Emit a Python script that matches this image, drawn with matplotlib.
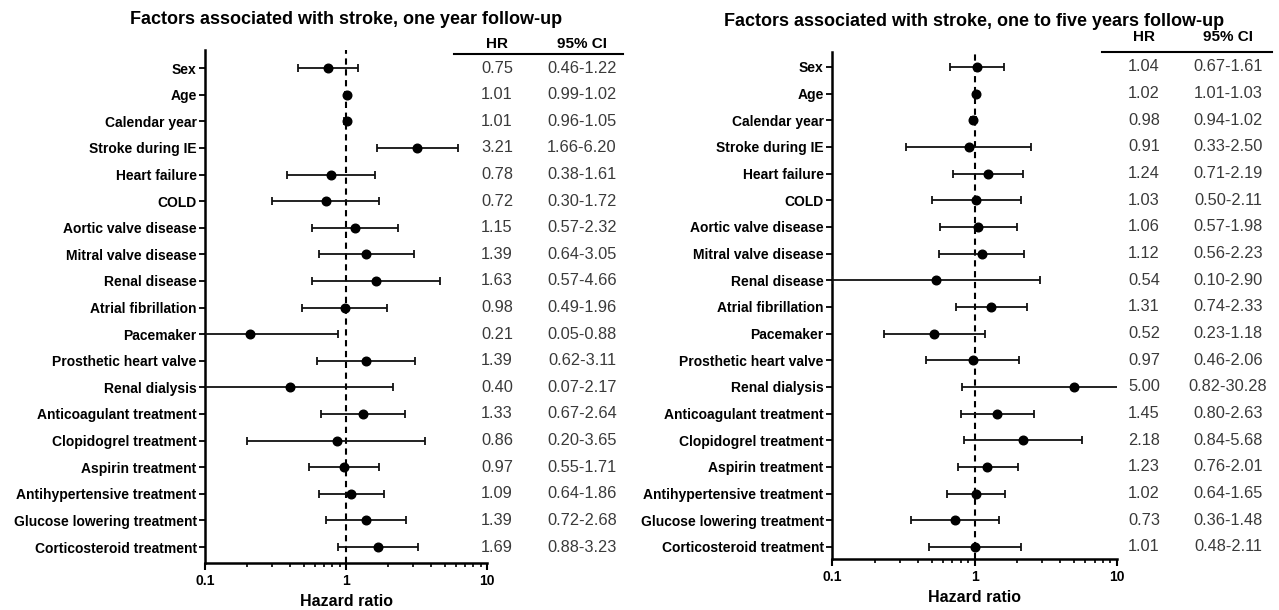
import matplotlib
matplotlib.use("Agg")
import matplotlib.pyplot as plt
import matplotlib.transforms as mtransforms
from matplotlib.ticker import LogLocator, NullFormatter

plt.rcParams['font.family'] = ['Liberation Sans', 'DejaVu Sans']

factors = ["Sex", "Age", "Calendar year", "Stroke during IE", "Heart failure", "COLD",
           "Aortic valve disease", "Mitral valve disease", "Renal disease",
           "Atrial fibrillation", "Pacemaker", "Prosthetic heart valve", "Renal dialysis",
           "Anticoagulant treatment", "Clopidogrel treatment", "Aspirin treatment",
           "Antihypertensive treatment", "Glucose lowering treatment",
           "Corticosteroid treatment"]

# one year follow-up
hr_1y = [0.75, 1.01, 1.01, 3.21, 0.78, 0.72, 1.15, 1.39, 1.63, 0.98, 0.21, 1.39, 0.40,
         1.33, 0.86, 0.97, 1.09, 1.39, 1.69]
lo_1y = [0.46, 0.99, 0.96, 1.66, 0.38, 0.30, 0.57, 0.64, 0.57, 0.49, 0.05, 0.62, 0.07,
         0.67, 0.20, 0.55, 0.64, 0.72, 0.88]
hi_1y = [1.22, 1.02, 1.05, 6.20, 1.61, 1.72, 2.32, 3.05, 4.66, 1.96, 0.88, 3.11, 2.17,
         2.64, 3.65, 1.71, 1.86, 2.68, 3.23]

# one to five years follow-up
hr_5y = [1.04, 1.02, 0.98, 0.91, 1.24, 1.03, 1.06, 1.12, 0.54, 1.31, 0.52, 0.97, 5.00,
         1.45, 2.18, 1.23, 1.02, 0.73, 1.01]
lo_5y = [0.67, 1.01, 0.94, 0.33, 0.71, 0.50, 0.57, 0.56, 0.10, 0.74, 0.23, 0.46, 0.82,
         0.80, 0.84, 0.76, 0.64, 0.36, 0.48]
hi_5y = [1.61, 1.03, 1.02, 2.50, 2.19, 2.11, 1.98, 2.23, 2.90, 2.33, 1.18, 2.06, 30.28,
         2.63, 5.68, 2.01, 1.65, 1.48, 2.11]

titles = ["Factors associated with stroke, one year follow-up",
          "Factors associated with stroke, one to five years follow-up"]
x_ticks = [0.1, 1, 10]
x_ticklabels = ["0.1", "1", "10"]

W, H = 1279, 610
fig = plt.figure(figsize=(W / 100, H / 100), dpi=100)


def px_axes(x0, x1, ytop, ybot):
    return fig.add_axes([x0 / W, 1 - ybot / H, (x1 - x0) / W, (ybot - ytop) / H])


panels = [
    dict(rect=(205, 487, 50, 563), ylim=(18.6, -0.68), hr=hr_1y, lo=lo_1y, hi=hi_1y,
         title=titles[0], title_y=19, hr_x=497, ci_x=582, head_y=44, line_y=54,
         line_x=(454, 623)),
    dict(rect=(832, 1117, 52, 559), ylim=(18.45, -0.56), hr=hr_5y, lo=lo_5y, hi=hi_5y,
         title=titles[1], title_y=22, hr_x=1144, ci_x=1228, head_y=37, line_y=52,
         line_x=(1102, 1272)),
]

for p in panels:
    ax = px_axes(*p["rect"])
    n = len(factors)
    ys = list(range(n))
    hr, lo, hi = p["hr"], p["lo"], p["hi"]
    xerr = [[h - l for h, l in zip(hr, lo)], [u - h for h, u in zip(hr, hi)]]
    ax.set_xscale("log")
    ax.set_xlim(0.1, 10)
    ax.set_ylim(*p["ylim"])
    ax.axvline(1, color="black", lw=1.5, ls=(0, (3.0, 2.2)), zorder=1)
    ax.errorbar(hr, ys, xerr=xerr, fmt="o", color="black", ecolor="#111111",
                elinewidth=1.3, capsize=2.8, capthick=1.3, markersize=6.2, zorder=3)
    ax.set_yticks(ys)
    ax.set_yticklabels(factors, fontsize=10, fontweight="bold")
    ax.set_xticks(x_ticks)
    ax.set_xticklabels(x_ticklabels, fontsize=10, fontweight="bold")
    ax.xaxis.set_minor_locator(LogLocator(base=10, subs=range(2, 10), numticks=10))
    ax.xaxis.set_minor_formatter(NullFormatter())
    ax.tick_params(axis="x", which="major", length=5, width=1.5, pad=3)
    ax.tick_params(axis="x", which="minor", length=3, width=1.2)
    ax.tick_params(axis="y", length=4, width=1.3, pad=2)
    for s in ["top", "right"]:
        ax.spines[s].set_visible(False)
    for s in ["left", "bottom"]:
        ax.spines[s].set_linewidth(1.8)
    ax.set_xlabel("Hazard ratio", fontsize=11.5, fontweight="bold", labelpad=4)

    x0, x1, yt, yb = p["rect"]
    fig.text(((x0 + x1) / 2) / W, 1 - p["title_y"] / H, p["title"], ha="center",
             va="center", fontsize=13, fontweight="bold")

    tr = mtransforms.blended_transform_factory(fig.transFigure, ax.transData)
    for i in range(n):
        ax.text(p["hr_x"] / W, i, f"{hr[i]:.2f}", transform=tr, ha="center", va="center",
                fontsize=11.8, color="#3a3a3a", clip_on=False)
        ax.text(p["ci_x"] / W, i, f"{lo[i]:.2f}-{hi[i]:.2f}", transform=tr, ha="center",
                va="center", fontsize=11.8, color="#3a3a3a", clip_on=False)
    fig.text(p["hr_x"] / W, 1 - p["head_y"] / H, "HR", ha="center", va="center",
             fontsize=11, fontweight="bold")
    fig.text(p["ci_x"] / W, 1 - p["head_y"] / H, "95% CI", ha="center", va="center",
             fontsize=11, fontweight="bold")
    fig.add_artist(plt.Line2D([p["line_x"][0] / W, p["line_x"][1] / W],
                              [1 - p["line_y"] / H, 1 - p["line_y"] / H],
                              transform=fig.transFigure, color="black", lw=1.5))

fig.savefig("out.png", dpi=100)
